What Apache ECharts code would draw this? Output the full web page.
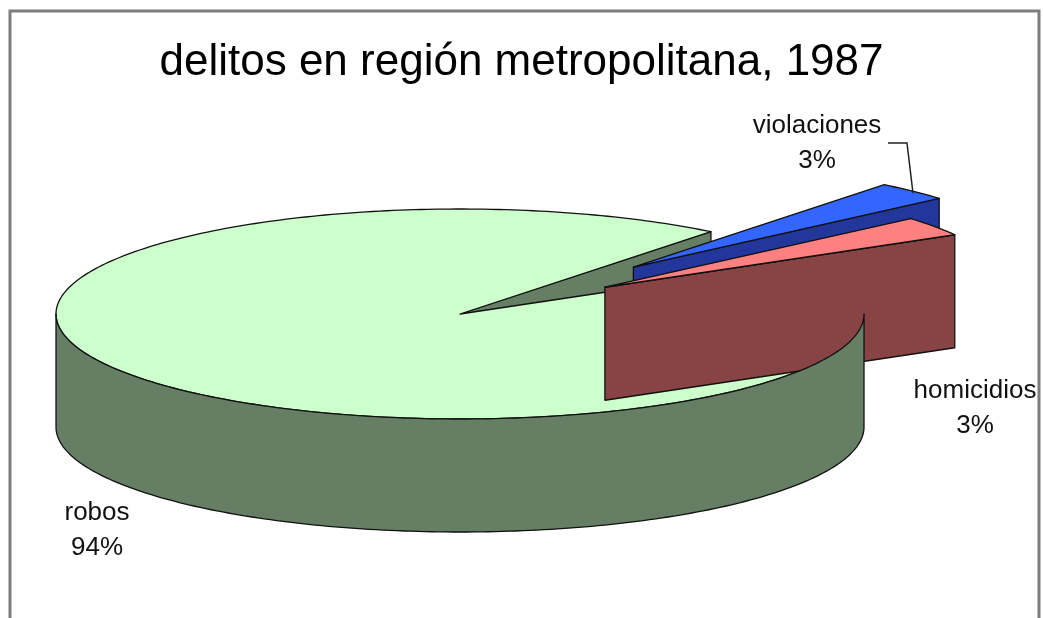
<!DOCTYPE html>
<html><head><meta charset="utf-8">
<script src="https://cdn.jsdelivr.net/npm/echarts@6/dist/echarts.min.js"></script>
<style>html,body{margin:0;padding:0;background:#fff}#c{width:1043px;height:618px}</style>
</head><body><div id="c"></div>
<script>
// ---- data ----
const categories = ['robos', 'violaciones', 'homicidios'];
const values = [94, 3, 3];

// ---- style ----
const topColors = ['#CCFFCC', '#3366FF', '#FF8080'];
const sideColors = ['#667F64', '#22369C', '#884444'];
const explode = [0, 0.62, 0.44];
const labelPos = [[97, 530], [817, 143], [975, 408]];
const G = { cx: 460, cy: 314, rx: 404, ry: 105, h: 113, startAngle: 60 };
const FONT = 'Arial, "Liberation Sans", Helvetica, sans-serif';

const total = values.reduce((a, b) => a + b, 0);

function sliceAngles(i) {
  let before = 0;
  for (let k = 0; k < i; k++) before += values[k];
  const a0 = (90 - G.startAngle) - before / total * 360;
  const a1 = a0 - values[i] / total * 360;
  return [a0, a1];
}
function pt(deg, r, off, z) {
  const t = deg * Math.PI / 180;
  return [G.cx + off[0] + r * G.rx * Math.cos(t), G.cy + off[1] - r * G.ry * Math.sin(t) + z];
}
function arc(a, b, off, z) {
  const n = Math.max(2, Math.ceil(Math.abs(a - b) / 1.0));
  const pts = [];
  for (let j = 0; j <= n; j++) pts.push(pt(a + (b - a) * j / n, 1, off, z));
  return pts;
}

// drawing order for slices: unexploded first, then exploded from back to front
function sliceRank(i) {
  const order = values.map((v, k) => k).sort((p, q) => {
    if ((explode[p] > 0) !== (explode[q] > 0)) return explode[p] > 0 ? 1 : -1;
    const ap = sliceAngles(p), aq = sliceAngles(q);
    const mp = (ap[0] + ap[1]) / 2, mq = (aq[0] + aq[1]) / 2;
    return Math.sin(mq * Math.PI / 180) - Math.sin(mp * Math.PI / 180);
  });
  return order.indexOf(i);
}

function renderItem(params, api) {
  const i = params.dataIndex;
  const v = api.value(0);
  const [a0, a1] = sliceAngles(i);
  const mid = (a0 + a1) / 2;
  const mt = mid * Math.PI / 180;
  const off = [explode[i] * G.rx * Math.cos(mt), -explode[i] * G.ry * Math.sin(mt)];
  const apex = [G.cx + off[0], G.cy + off[1]];
  const rank = sliceRank(i);
  const line = { stroke: '#111', lineWidth: 1.3, lineJoin: 'round' };
  const children = [];

  // cut faces
  const faces = [];
  if (Math.cos(a0 * Math.PI / 180) < 0) faces.push(a0);
  if (Math.cos(a1 * Math.PI / 180) > 0) faces.push(a1);
  faces.forEach(a => {
    const r0 = pt(a, 1, off, 0), r1 = pt(a, 1, off, G.h);
    children.push({
      type: 'polygon', z2: rank * 3,
      shape: { points: [apex, r0, r1, [apex[0], apex[1] + G.h]] },
      style: Object.assign({ fill: sideColors[i] }, line)
    });
  });

  // top
  children.push({
    type: 'polygon', z2: rank * 3 + 1,
    shape: { points: [apex].concat(arc(a0, a1, off, 0)) },
    style: Object.assign({ fill: topColors[i] }, line)
  });

  // front outer wall
  for (let k = -2; k <= 1; k++) {
    const lo = -180 + 360 * k, hi = 360 * k;
    const s = Math.max(a1, lo), e = Math.min(a0, hi);
    if (e > s) {
      const topArc = arc(e, s, off, 0);
      const botArc = arc(s, e, off, G.h);
      children.push({
        type: 'polygon', z2: 100 + rank,
        shape: { points: topArc.concat(botArc) },
        style: Object.assign({ fill: sideColors[i] }, line)
      });
    }
  }

  // label
  const pct = Math.round(v / total * 100) + '%';
  const lp = labelPos[i];
  children.push({
    type: 'text', z2: 200,
    style: {
      x: lp[0], y: lp[1], text: categories[i] + '\n' + pct,
      align: 'center', verticalAlign: 'middle',
      font: '26px ' + FONT, lineHeight: 35, fill: '#111'
    }
  });
  // leader line for labels placed above the pie
  if (lp[1] < G.cy - G.ry) {
    const end = pt(mid, 1, off, 0);
    const sx = lp[0] + 71, sy = lp[1];
    children.push({
      type: 'polyline', z2: 200,
      shape: { points: [[sx, sy], [end[0] - 6, sy], [end[0], end[1] + 2]] },
      style: { stroke: '#222', lineWidth: 1.5, fill: null }
    });
  }
  return { type: 'group', children: children };
}

const chart = echarts.init(document.getElementById('c'), null, { renderer: 'canvas' });
chart.setOption({
  animation: false,
  backgroundColor: '#fff',
  title: {
    text: 'delitos en región metropolitana, 1987',
    left: 'center', top: 36,
    textStyle: { fontFamily: FONT, fontSize: 44, fontWeight: 'normal', color: '#000' }
  },
  graphic: [{
    type: 'rect', silent: true,
    shape: { x: 10, y: 11, width: 1029, height: 640 },
    style: { fill: null, stroke: '#7d7d7d', lineWidth: 3 }
  }],
  series: [{
    type: 'custom',
    coordinateSystem: 'none',
    silent: true,
    data: values.map((v, i) => ({ name: categories[i], value: v })),
    renderItem: renderItem
  }]
});
</script></body></html>
